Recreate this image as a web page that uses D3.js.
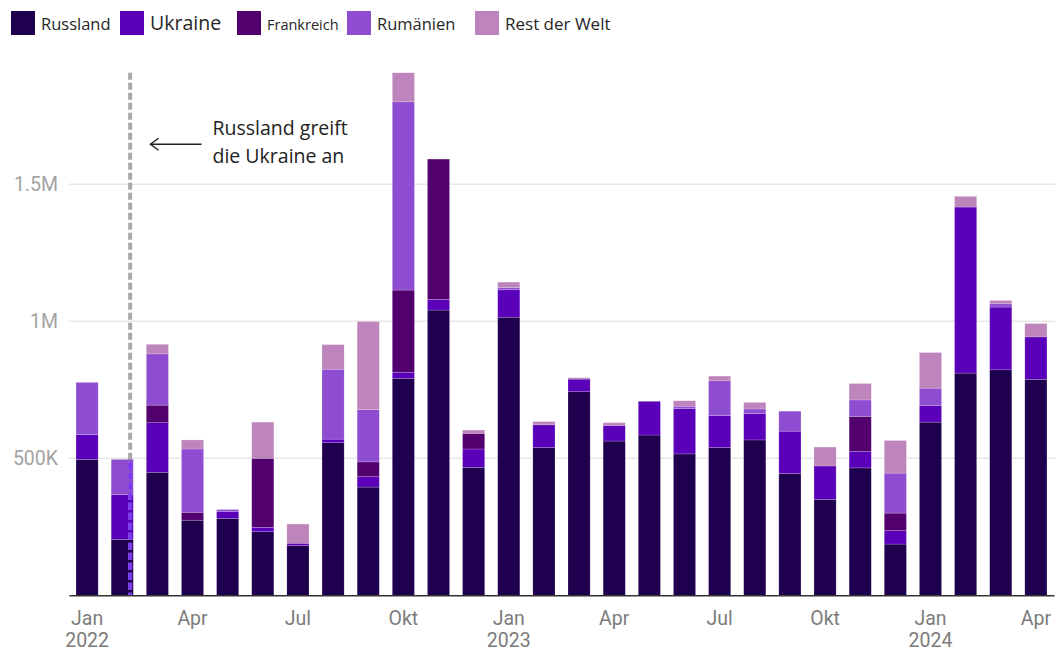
<!DOCTYPE html>
<html>
<head>
<meta charset="utf-8">
<script src="https://cdn.jsdelivr.net/npm/d3@7"></script>
<style>
  html, body { margin: 0; padding: 0; background: #fff; }
  svg { display: block; }
</style>
</head>
<body>
<svg id="chart" width="1055" height="654"></svg>
<script>
// ---------------- DATA (values in thousands of tonnes) ----------------
const months = ["2022-01","2022-02","2022-03","2022-04","2022-05","2022-06","2022-07","2022-08","2022-09","2022-10","2022-11","2022-12",
                "2023-01","2023-02","2023-03","2023-04","2023-05","2023-06","2023-07","2023-08","2023-09","2023-10","2023-11","2023-12",
                "2024-01","2024-02","2024-03","2024-04"];
const monthNames = ["Jan","Feb","Mär","Apr","Mai","Jun","Jul","Aug","Sep","Okt","Nov","Dez"];
const seriesNames = ["Russland","Ukraine","Frankreich","Rumänien","Rest der Welt"];
const seriesColors = ["#1e004f","#5a00b9","#53006f","#8e4cd0","#be85bd"];

const russland   = [496,204,449,274,281,232,182,557,395,792,1041,467,1015,539,743,563,585,516,539,567,445,350,465,187,632,811,823,788];
const ukraine    = [ 91,164,181,  0, 24, 16,  8, 13, 38, 22,  39, 67, 100, 83, 46, 57,123,166,117, 96,154,122, 60, 49, 61,606,229,155];
const frankreich = [  0,  0, 64, 29,  0,252,  0,  0, 54,300, 512, 57,   0,  0,  0,  0,  0,  0,  0,  0,  0,  0,128, 64,  0,  0,  0,  0];
const rumaenien  = [190,128,187,231,  8,  0,  0,255,191,687,   0,  0,   8,  0,  0,  0,  0,  8,127, 17, 73,  0, 60,146, 63,  0, 12,  0];
const rest       = [  0,  0, 35, 33,  0,132, 70, 90,321,106,   0, 12,  20, 12,  5, 10,  0, 20, 17, 24,  0, 69, 60,119,130, 39, 12, 49];

const yTicks = [500, 1000, 1500];
const yTickLabels = ["500K", "1M", "1.5M"];
const annotationLines = ["Russland greift", "die Ukraine an"];

// ---------------- BUILD TABLE ----------------
const seriesValues = [russland, ukraine, frankreich, rumaenien, rest];
const table = months.map((m, i) => {
  const row = { month: m };
  seriesNames.forEach((s, k) => row[s] = seriesValues[k][i]);
  return row;
});
const stacked = d3.stack().keys(seriesNames)(table);

// ---------------- SCALES ----------------
const svg = d3.select("#chart");
const x = d3.scaleBand().domain(months).range([69, 1054]).paddingInner(0.37).paddingOuter(0.2);
const y = d3.scaleLinear().domain([0, 2000]).range([595.3, 47.3]);
const color = d3.scaleOrdinal().domain(seriesNames).range(seriesColors);

// gridlines
svg.append("g").selectAll("line").data(yTicks).join("line")
  .attr("x1", 69).attr("x2", 1055)
  .attr("y1", d => y(d)).attr("y2", d => y(d))
  .attr("stroke", "#e7e7e7").attr("stroke-width", 1.5);

// y axis
const yAxis = svg.append("g").attr("transform", "translate(69,0)")
  .call(d3.axisLeft(y).tickValues(yTicks).tickSize(0).tickPadding(11)
        .tickFormat((d, i) => yTickLabels[i]));
yAxis.select(".domain").remove();
yAxis.selectAll(".tick text")
  .attr("font-family", "Roboto, sans-serif").attr("font-size", "19.5px")
  .attr("fill", "#a3a3a3");

// bars
svg.append("g").selectAll("g").data(stacked).join("g")
  .attr("fill", d => color(d.key))
  .selectAll("rect").data(d => d).join("rect")
  .attr("x", d => x(d.data.month))
  .attr("width", x.bandwidth())
  .attr("y", d => y(d[1]))
  .attr("height", d => Math.max(0, y(d[0]) - y(d[1])))
  .attr("stroke", "rgba(255,255,255,0.3)").attr("stroke-width", 0.6);

// x axis
const quarterMonths = months.filter((m, i) => i % 3 === 0);
const xAxis = svg.append("g").attr("transform", "translate(0,595.3)")
  .call(d3.axisBottom(x).tickValues(quarterMonths).tickSize(0)
        .tickFormat(m => monthNames[+m.slice(5) - 1]));
xAxis.select(".domain").attr("stroke", "#333").attr("stroke-width", 1.6);
xAxis.selectAll(".tick text")
  .attr("font-family", "Roboto, sans-serif").attr("font-size", "19.5px")
  .attr("fill", "#7c7c7c").attr("y", 30).attr("dy", 0)
  .each(function(m) {
    if (m.slice(5) === "01") {
      d3.select(this).append("tspan").attr("x", 0).attr("dy", 22).text(m.slice(0, 4));
    }
  });

// invasion dashed line (24 Feb 2022)
const febIdx = 1;
const lineX = x(months[febIdx]) + x.bandwidth() * 24 / 28;
const febTop = y(d3.sum(seriesValues, s => s[febIdx]));
svg.append("line")
  .attr("x1", lineX).attr("x2", lineX).attr("y1", 72.7).attr("y2", 595)
  .attr("stroke", "#a9a9a9").attr("stroke-width", 4).attr("stroke-dasharray", "7,3");
svg.append("clipPath").attr("id", "febclip").append("rect")
  .attr("x", lineX - 5).attr("width", 10).attr("y", febTop).attr("height", 595 - febTop);
svg.append("line")
  .attr("clip-path", "url(#febclip)")
  .attr("x1", lineX).attr("x2", lineX).attr("y1", 72.7).attr("y2", 595)
  .attr("stroke", "#7424ff").attr("stroke-opacity", 0.85).attr("stroke-width", 4).attr("stroke-dasharray", "7,3");

// annotation
svg.append("line").attr("x1", 150).attr("x2", 201.5).attr("y1", 144.3).attr("y2", 144.3)
  .attr("stroke", "#222").attr("stroke-width", 1.4);
svg.append("path").attr("d", "M158.5,138.3 L150.5,144.3 L158.5,150.3")
  .attr("fill", "none").attr("stroke", "#222").attr("stroke-width", 1.4);
svg.append("text").attr("font-family", "'Open Sans', sans-serif").attr("font-size", "19.5px")
  .attr("fill", "#222")
  .selectAll("tspan").data(annotationLines).join("tspan")
  .attr("x", 212.5).attr("y", (d, i) => 135 + i * 28.3).text(d => d);

// legend
const legendX = [11, 120, 237, 347, 475];
const legendFont = [16.5, 19.5, 14.5, 16.5, 17];
const leg = svg.append("g").selectAll("g").data(seriesNames).join("g")
  .attr("transform", (d, i) => `translate(${legendX[i]},11)`);
leg.append("rect").attr("width", 24).attr("height", 24).attr("fill", d => color(d));
leg.append("text").attr("x", 30).attr("y", 18.5)
  .attr("font-family", "'Open Sans', sans-serif")
  .attr("font-size", (d, i) => legendFont[i] + "px")
  .attr("fill", "#262626").text(d => d);
</script>
</body>
</html>
